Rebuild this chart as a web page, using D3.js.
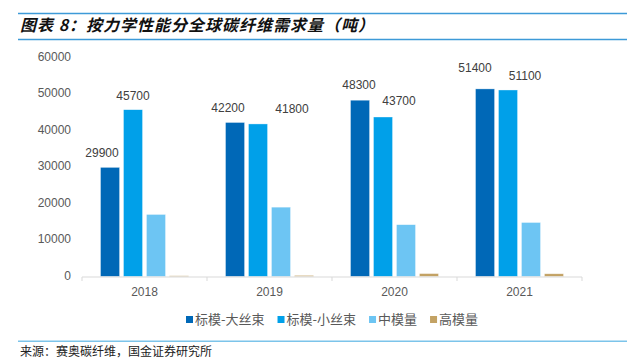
<!DOCTYPE html>
<html><head><meta charset="utf-8">
<script src="https://cdn.jsdelivr.net/npm/d3@7"></script>
<style>body{margin:0;background:#fff}svg{display:block}</style>
</head><body><svg id="c" width="627" height="359"></svg>
<script>
const years = ["2018", "2019", "2020", "2021"];
const seriesNames = ["标模-大丝束", "标模-小丝束", "中模量", "高模量"];
const stdLargeTow = [29900, 42200, 48300, 51400];
const stdSmallTow = [45700, 41800, 43700, 51100];
const midModulus = [17000, 19000, 14200, 14800];
const highModulus = [200, 300, 800, 750];
const yTicks = [0, 10000, 20000, 30000, 40000, 50000, 60000];
const colors = ["#0068B7", "#00A0E9", "#6DC5F3", "#C3A264"];
const labeledSeries = [0, 1];
// manual label nudges (px) as placed in the source chart
const labelNudge = [
  [[-8,-14],[-7,-14],[-1,-14],[-10,-20]],
  [[0,-13],[34,-14],[16,-15],[17,-13]]
];

const series = [stdLargeTow, stdSmallTow, midModulus, highModulus];
const svg = d3.select("#c");
const sans = "'Liberation Sans', Arial, sans-serif";
const cjk = "'Noto Sans CJK SC', 'Liberation Sans', sans-serif";

// title lines
svg.append("line").attr("x1",18).attr("x2",627).attr("y1",13.5).attr("y2",13.5).attr("stroke","#3D9AD8").attr("stroke-width",1.5);
svg.append("line").attr("x1",18).attr("x2",627).attr("y1",39.5).attr("y2",39.5).attr("stroke","#3D9AD8").attr("stroke-width",1.5);
svg.append("text").attr("x",20).attr("y",27).attr("dominant-baseline","middle")
  .attr("font-family",cjk).attr("font-size",16).attr("font-weight","bold").attr("font-style","italic")
  .attr("letter-spacing",1).attr("fill","#111").text("图表 8：按力学性能分全球碳纤维需求量（吨）");

const x0 = d3.scaleBand().domain(years).range([82, 582]).padding(0);
const x1 = d3.scaleBand().domain(d3.range(4)).range([18.5, 106.5]).paddingInner(0.17).paddingOuter(0);
const y = d3.scaleLinear().domain([0, 60000]).range([276.5, 57.5]);

// y labels
svg.append("g").selectAll("text").data(yTicks).join("text")
  .attr("x",71).attr("y",d=>y(d)).attr("dominant-baseline","middle").attr("text-anchor","end")
  .attr("font-family",sans).attr("font-size",12).attr("fill","#595959").text(d=>d);

// bars
years.forEach((yr,i)=>{
  series.forEach((s,k)=>{
    svg.append("rect").attr("x",x0(yr)+x1(k)).attr("width",x1.bandwidth())
      .attr("y",y(s[i])).attr("height",y(0)-y(s[i]))
      .attr("fill",colors[k]).attr("stroke","#fff").attr("stroke-width",0.6).attr("stroke-opacity",0.6);
  });
});

// x axis
const xa = svg.append("g").attr("transform","translate(0,277)");
xa.append("line").attr("x1",82).attr("x2",582).attr("stroke","#D9D9D9").attr("stroke-width",1);
[...years.map(d=>x0(d)), 582].forEach(v=>{
  xa.append("line").attr("x1",v).attr("x2",v).attr("y1",0).attr("y2",4).attr("stroke","#D9D9D9");
});
svg.append("g").selectAll("text").data(years).join("text")
  .attr("x",d=>x0(d)+x0.bandwidth()/2).attr("y",293).attr("dominant-baseline","middle").attr("text-anchor","middle")
  .attr("font-family",sans).attr("font-size",12).attr("fill","#595959").text(d=>d);

// labels
labeledSeries.forEach((k,j)=>{
  years.forEach((yr,i)=>{
    const v = series[k][i];
    svg.append("text").attr("x",x0(yr)+x1(k)+x1.bandwidth()/2+labelNudge[j][i][0])
      .attr("y",y(v)+labelNudge[j][i][1]).attr("dominant-baseline","middle").attr("text-anchor","middle")
      .attr("font-family",sans).attr("font-size",12).attr("fill","#404040").text(v);
  });
});

// legend
let lx = 186;
seriesNames.forEach((n,k)=>{
  svg.append("rect").attr("x",lx).attr("y",316).attr("width",7).attr("height",7).attr("fill",colors[k]);
  const t = svg.append("text").attr("x",lx+9).attr("y",320).attr("dominant-baseline","middle")
    .attr("font-family",cjk).attr("font-size",13).attr("fill","#595959").text(n);
  lx += 9 + t.node().getComputedTextLength() + 13;
});

// footer
svg.append("line").attr("x1",18).attr("x2",627).attr("y1",341.3).attr("y2",341.3).attr("stroke","#7CC4EA").attr("stroke-width",1.5);
svg.append("text").attr("x",20).attr("y",353).attr("dominant-baseline","middle")
  .attr("font-family",cjk).attr("font-size",12).attr("fill","#222").text("来源：赛奥碳纤维，国金证券研究所");
</script></body></html>
